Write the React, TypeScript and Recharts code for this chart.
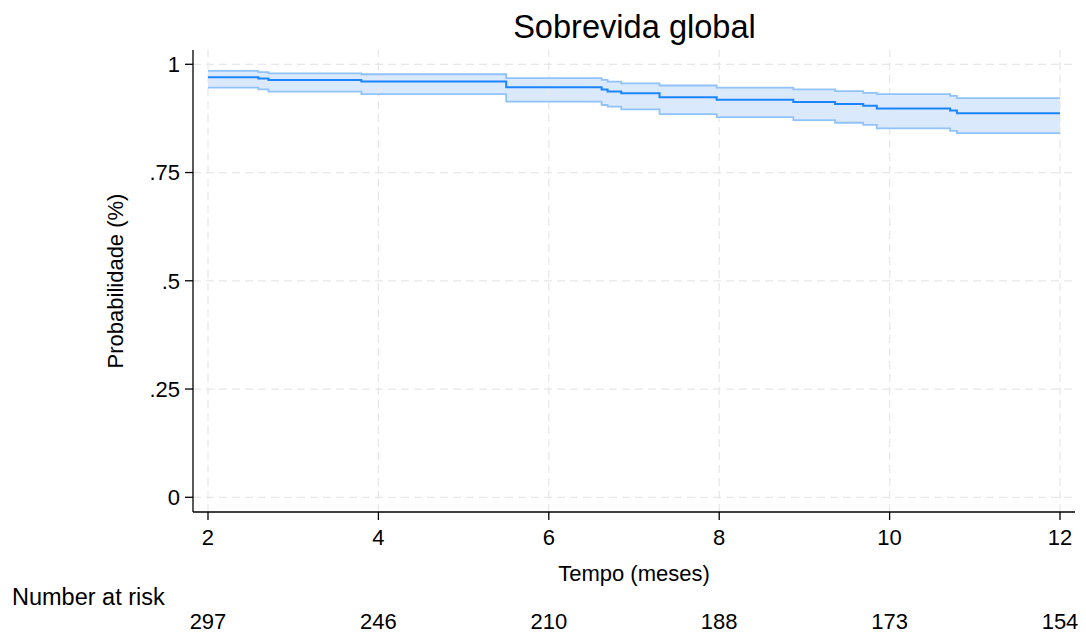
import React from "react";
import {
  ComposedChart,
  Area,
  Line,
  XAxis,
  YAxis,
  ReferenceLine,
} from "recharts";

// Kaplan-Meier steps
const times = [2, 2.59, 2.71, 3.8, 5.5, 6.62, 6.69, 6.85, 7.3, 7.97, 8.87, 9.36, 9.69, 9.85, 10.71, 10.79, 12];
const survival = [0.97, 0.967, 0.964, 0.96, 0.947, 0.942, 0.937, 0.933, 0.924, 0.918, 0.913, 0.908, 0.904, 0.898, 0.893, 0.887, 0.887];
const lowerCI = [0.946, 0.942, 0.937, 0.931, 0.914, 0.906, 0.902, 0.896, 0.885, 0.878, 0.871, 0.865, 0.86, 0.852, 0.846, 0.841, 0.841];
const upperCI = [0.985, 0.982, 0.979, 0.977, 0.968, 0.964, 0.96, 0.956, 0.951, 0.946, 0.942, 0.938, 0.934, 0.931, 0.927, 0.922, 0.922];

const xTicks = [2, 4, 6, 8, 10, 12];
const atRisk = [297, 246, 210, 188, 173, 154];
const yTicks = [0, 0.25, 0.5, 0.75, 1];
const yTickLabels = ["0", ".25", ".5", ".75", "1"];

const FONT = "'Liberation Sans', Arial, Helvetica, sans-serif";
const W = 1086;
const H = 642;
const GRID = "#e8e8e8";

const data = times.map((t, i) => ({
  t,
  s: survival[i],
  lo: lowerCI[i],
  hi: upperCI[i],
  band: [lowerCI[i], upperCI[i]],
}));

export default function App() {
  return (
    <div style={{ position: "absolute", left: 0, top: 0, width: W, height: H, background: "#fff" }}>
      <ComposedChart
        width={W}
        height={H}
        data={data}
        margin={{ top: 50, right: 11, left: 0, bottom: 0 }}
      >
        <XAxis
          dataKey="t"
          type="number"
          domain={[1.824, 12.176]}
          ticks={xTicks}
          allowDataOverflow
          height={75}
          stroke="#000"
          strokeWidth={1.3}
          tickSize={8}
          tickMargin={9}
          tick={{ fontSize: 22, fill: "#000", fontFamily: FONT }}
          label={{
            content: (p: any) => {
              const vb = p.viewBox;
              return (
                <text x={vb.x + vb.width / 2} y={vb.y + 69} textAnchor="middle" fontSize={22} fontFamily={FONT} fill="#000">
                  Tempo (meses)
                </text>
              );
            },
          }}
        />
        <XAxis
          xAxisId="risk"
          dataKey="t"
          type="number"
          domain={[1.824, 12.176]}
          ticks={xTicks}
          allowDataOverflow
          height={55}
          axisLine={false}
          tickLine={false}
          tickSize={0}
          tickMargin={26}
          tickFormatter={(v: number) => String(atRisk[xTicks.indexOf(v)] ?? "")}
          tick={{ fontSize: 22, fill: "#000", fontFamily: FONT }}
        />
        <YAxis
          type="number"
          domain={[-0.034, 1.033]}
          ticks={yTicks}
          allowDataOverflow
          width={193}
          stroke="#000"
          strokeWidth={1.3}
          tickSize={8}
          tickMargin={5}
          tickFormatter={(v: number) => yTickLabels[yTicks.indexOf(v)] ?? ""}
          tick={{ fontSize: 22, fill: "#000", fontFamily: FONT }}
          label={{
            content: (p: any) => {
              const vb = p.viewBox;
              const cy = vb.y + vb.height / 2;
              return (
                <text x={123} y={cy} transform={`rotate(-90, 123, ${cy})`} textAnchor="middle" fontSize={22} fontFamily={FONT} fill="#000">
                  Probabilidade (%)
                </text>
              );
            },
          }}
        />
        {yTicks.map((v) => (
          <ReferenceLine key={`gy${v}`} y={v} stroke={GRID} strokeWidth={1.3} strokeDasharray="8 5" />
        ))}
        {xTicks.map((v) => (
          <ReferenceLine key={`gx${v}`} x={v} stroke={GRID} strokeWidth={1.3} strokeDasharray="8 5" />
        ))}
        <Area
          type="stepAfter"
          dataKey="band"
          fill="#dbe9fd"
          fillOpacity={1}
          stroke="none"
          isAnimationActive={false}
        />
        <Line type="stepAfter" dataKey="lo" stroke="#90c3fb" strokeWidth={1.8} dot={false} isAnimationActive={false} />
        <Line type="stepAfter" dataKey="hi" stroke="#90c3fb" strokeWidth={1.8} dot={false} isAnimationActive={false} />
        <Line type="stepAfter" dataKey="s" stroke="#1a85ff" strokeWidth={2} dot={false} isAnimationActive={false} />
      </ComposedChart>
      <svg width={W} height={H} style={{ position: "absolute", left: 0, top: 0, pointerEvents: "none" }}>
        <text x={634.5} y={38} textAnchor="middle" fontSize={32.6} fontFamily={FONT} fill="#000">
          Sobrevida global
        </text>
        <text x={12} y={605} fontSize={23.5} fontFamily={FONT} fill="#000">
          Number at risk
        </text>
      </svg>
    </div>
  );
}
